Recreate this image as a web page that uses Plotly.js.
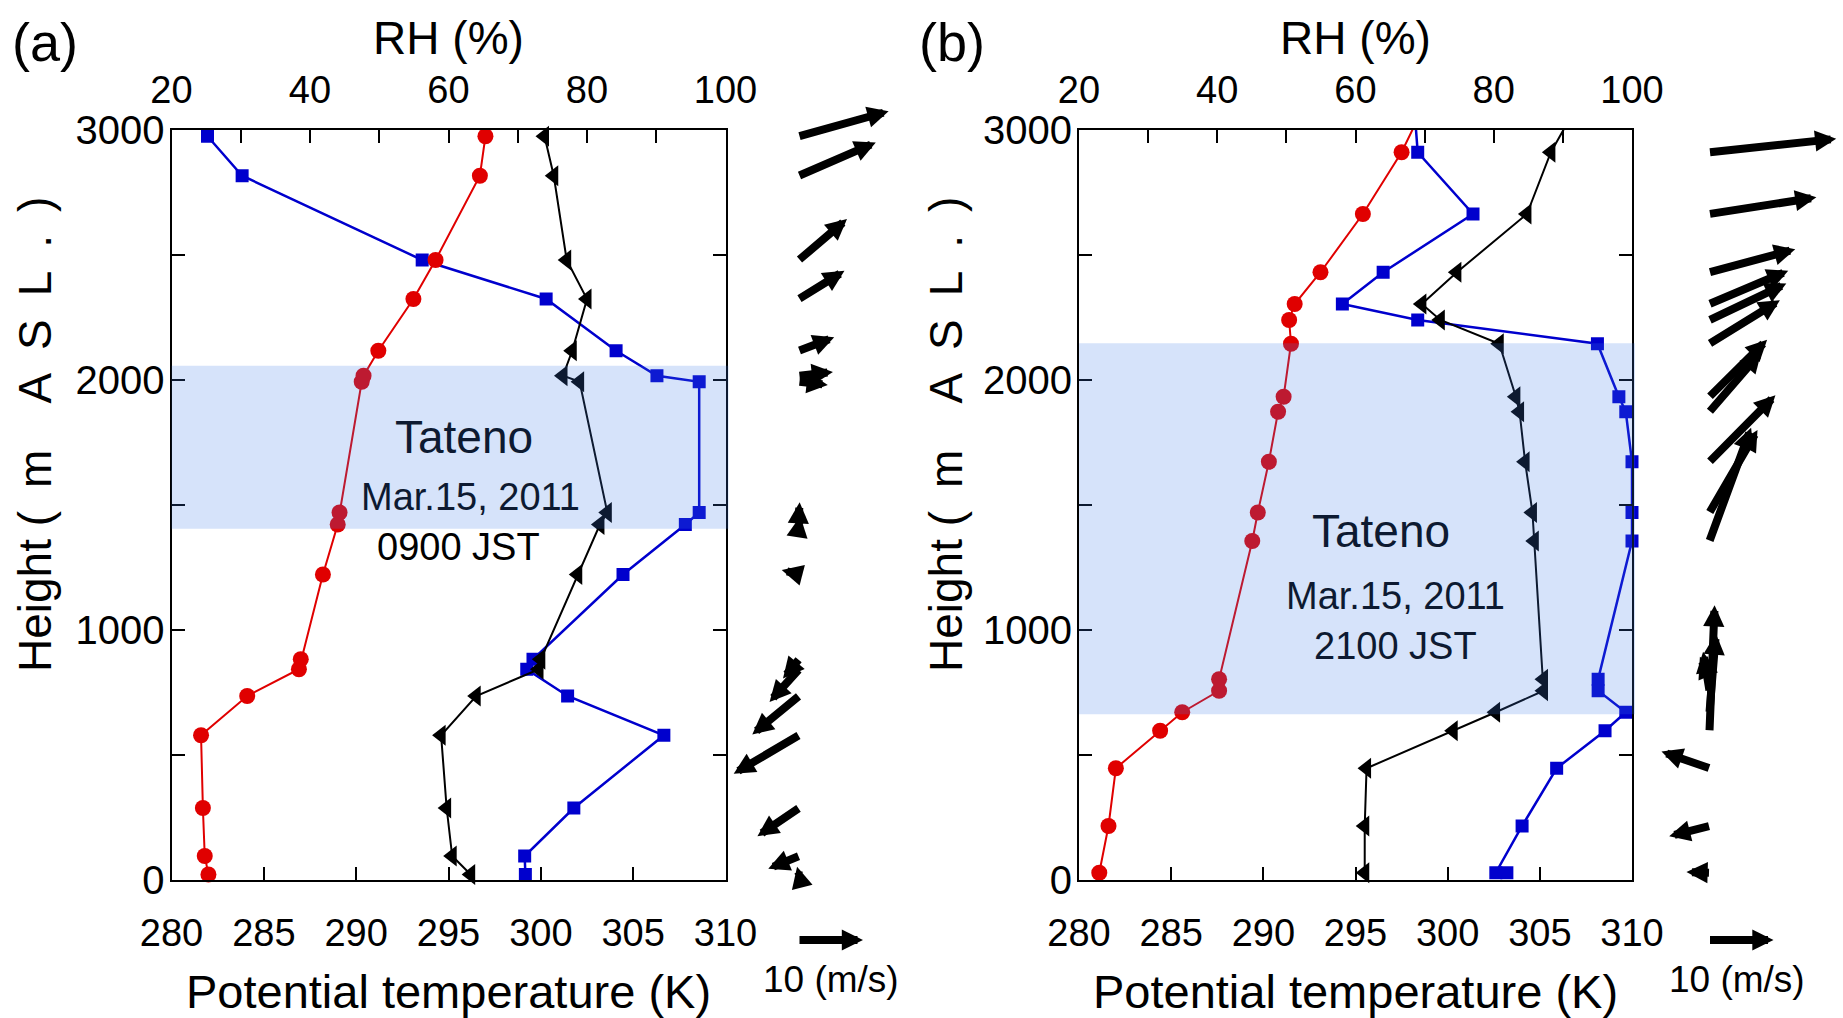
<!DOCTYPE html>
<html>
<head>
<meta charset="utf-8">
<script src="https://cdn.plot.ly/plotly-3.0.1.min.js"></script>
<style>
html, body { margin: 0; padding: 0; background: #ffffff; }
#chart { width: 1843px; height: 1018px; }
</style>
</head>
<body>
<div id="chart"></div>
<script>
// ---------------- DATA ----------------
// Panel (a): Tateno, Mar.15, 2011, 0900 JST
const heightA  = [2975, 2817, 2480, 2324, 2117, 2017, 1993, 1470, 1422, 1222, 883, 843, 736, 579, 288, 96, 22];
const thetaA   = [297.0, 296.7, 294.3, 293.1, 291.2, 290.4, 290.3, 289.1, 289.0, 288.2, 287.0, 286.9, 284.1, 281.6, 281.7, 281.8, 282.0];
const thetaEA  = [300.2, 300.7, 301.4, 302.5, 301.7, 301.2, 302.1, 303.6, 303.2, 302.0, 300.0, 299.9, 296.5, 294.6, 294.9, 295.2, 296.2];
const rhA      = [25.2, 30.2, 56.2, 74.1, 84.2, 90.1, 96.2, 96.2, 94.2, 85.2, 72.2, 71.3, 77.2, 91.1, 78.1, 71.0, 71.1];
const windUA   = [14.0, 12.0, 7.5, 7.1, 5.5, 5.3, 4.5, 0.1, 0.2, -2.7, -2.5, -4.6, -7.3, -10.2, -6.5, -4.8, -0.3];
const windVA   = [3.9, 5.2, 6.4, 4.4, 2.1, 0.6, -0.5, 1.6, 1.3, 0.7, -3.0, -5.1, -6.0, -6.0, -4.4, -2.0, 1.2];
const cloudA   = [1405, 2057];

// Panel (b): Tateno, Mar.15, 2011, 2100 JST
const heightB   = [3200, 2911, 2664, 2431, 2304, 2240, 2145, 1933, 1873, 1673, 1470, 1356, 803, 757, 671, 597, 447, 216, 29];
const thetaB    = [299.4, 297.5, 295.4, 293.1, 291.7, 291.4, 291.5, 291.1, 290.8, 290.3, 289.7, 289.4, 287.6, 287.6, 285.6, 284.4, 282.0, 281.6, 281.1];
const thetaEB   = [307.8, 305.6, 304.3, 300.5, 298.6, 299.6, 302.8, 303.7, 303.9, 304.2, 304.6, 304.7, 305.2, 305.2, 302.6, 300.3, 295.6, 295.5, 295.5];
const rhHeightB = [3200, 2911, 2664, 2431, 2304, 2240, 2145, 1933, 1873, 1673, 1470, 1356, 803, 757, 671, 597, 447, 216, 29, 29];
const rhB       = [68.2, 69.0, 77.0, 64.0, 58.1, 69.0, 95.0, 98.1, 99.1, 100.0, 100.0, 100.0, 95.1, 95.1, 99.1, 96.1, 89.1, 84.1, 80.3, 81.9];
const windHeightB = [2911, 2664, 2431, 2304, 2240, 2145, 1933, 1873, 1673, 1470, 1356, 803, 757, 671, 597, 447, 216, 29];
const windUB    = [19.8, 16.7, 13.4, 12.3, 12.0, 11.0, 9.0, 8.1, 10.3, 7.5, 6.5, -1.5, -1.0, 1.0, 0.8, -7.5, -6.3, -3.6];
const windVB    = [2.1, 2.6, 3.6, 5.2, 5.7, 6.8, 8.9, 9.4, 10.4, 12.9, 17.7, 3.5, 6.1, 12.3, 19.6, 2.6, -1.6, 0.1];
const cloudB    = [663, 2147];

// Reference wind vector (m/s)
const refWind = 10;

// Ticks
const thetaTicks    = [280, 285, 290, 295, 300, 305, 310];
const thetaTickText = ['280', '285', '290', '295', '300', '305', '310'];
const rhTicks       = [20, 30, 40, 50, 60, 70, 80, 90, 100];
const rhTickText    = ['20', '', '40', '', '60', '', '80', '', '100'];
const heightTicks   = [0, 500, 1000, 1500, 2000, 2500, 3000];
const heightTickText = ['0', '', '1000', '', '2000', '', '3000'];

// ---------------- LAYOUT / STYLE ----------------
const W = 1843, H = 1018;
const plotTop = 130, plotBottom = 880;
const aLeft = 171.5, aRight = 725.5;
const bLeft = 1079, bRight = 1632;
const hRange = [0, 3000];
const pxPerMs = 6.4;                                   // arrow scale (px per m/s)
const mPerMs = pxPerMs * (hRange[1] - hRange[0]) / (plotBottom - plotTop);

const fx = px => px / W;
const fy = py => 1 - py / H;

const RED = '#e00000', BLUE = '#0000cd', BLACK = '#000000';
const SHADE_TEXT = 'rgb(13,26,49)';
const FONT = 'Liberation Sans, Arial, Helvetica, sans-serif';

function windAxis(left, right, origin, anchor) {
  return {
    domain: [fx(left), fx(right)],
    range: [(left - origin) / pxPerMs, (right - origin) / pxPerMs],
    anchor: anchor, visible: false, fixedrange: true
  };
}

function rhAxis(left, right, anchor) {
  return {
    domain: [fx(left), fx(right)], range: [20, 100], side: 'top', anchor: anchor,
    tickmode: 'array', tickvals: rhTicks, ticktext: rhTickText,
    ticks: 'inside', ticklen: 13, tickwidth: 2, tickcolor: BLACK,
    showline: true, linewidth: 2, linecolor: BLACK, showgrid: false, zeroline: false,
    tickfont: {family: FONT, size: 38, color: BLACK}, ticklabelstandoff: 10,
    title: {text: 'RH (%)', font: {family: FONT, size: 46, color: BLACK}, standoff: 0}
  };
}

function thetaAxis(overlay, anchor) {
  return {
    overlaying: overlay, range: [280, 310], side: 'bottom', anchor: anchor,
    tickmode: 'array', tickvals: thetaTicks, ticktext: thetaTickText,
    ticks: 'inside', ticklen: 13, tickwidth: 2, tickcolor: BLACK,
    showline: true, linewidth: 2, linecolor: BLACK, showgrid: false, zeroline: false,
    tickfont: {family: FONT, size: 38, color: BLACK}, ticklabelstandoff: 18,
    title: {text: 'Potential temperature (K)', font: {family: FONT, size: 47, color: BLACK}, standoff: 45}
  };
}

function heightAxis(anchor) {
  return {
    domain: [fy(plotBottom), fy(plotTop)], range: hRange, anchor: anchor,
    tickmode: 'array', tickvals: heightTicks, ticktext: heightTickText,
    ticks: 'inside', ticklen: 13, tickwidth: 2, tickcolor: BLACK,
    showline: true, linewidth: 2, linecolor: BLACK, mirror: 'ticks',
    showgrid: false, zeroline: false,
    tickfont: {family: FONT, size: 40, color: BLACK}, ticklabelstandoff: -3
  };
}

function profileTraces(xRH, xTheta, ya, h, theta, thetaE, rhH, rh, windH, windRef) {
  return [
    {type: 'scatter', mode: 'lines+markers', x: rh, y: rhH, xaxis: xRH, yaxis: ya,
     line: {color: BLUE, width: 2.5}, marker: {symbol: 'square', size: 13, color: BLUE},
     cliponaxis: false, hoverinfo: 'skip'},
    {type: 'scatter', mode: 'lines+markers', x: thetaE, y: h, xaxis: xTheta, yaxis: ya,
     line: {color: BLACK, width: 2}, marker: {symbol: 'triangle-left', size: 18, color: BLACK},
     cliponaxis: false, hoverinfo: 'skip'},
    {type: 'scatter', mode: 'lines+markers', x: theta, y: h, xaxis: xTheta, yaxis: ya,
     line: {color: RED, width: 2}, marker: {symbol: 'circle', size: 16, color: RED},
     cliponaxis: false, hoverinfo: 'skip'},
    // anchors of the wind vectors (tails), invisible
    {type: 'scatter', mode: 'markers', x: windH.map(() => 0), y: windH, xaxis: windRef, yaxis: ya,
     marker: {size: 1, opacity: 0}, hoverinfo: 'skip'}
  ];
}

const data = [].concat(
  profileTraces('x', 'x2', 'y', heightA, thetaA, thetaEA, heightA, rhA, heightA, 'x5'),
  profileTraces('x3', 'x4', 'y2', heightB, thetaB, thetaEB, rhHeightB, rhB, windHeightB, 'x6')
);

const arrowStyle = {
  text: '', showarrow: true, arrowhead: 2, arrowsize: 0.53, arrowwidth: 8,
  arrowcolor: BLACK, standoff: 0, startstandoff: 0, font: {size: 1}, borderpad: 0
};

function windArrows(xref, yref, heights, u, v) {
  return heights.map((h, i) => Object.assign({}, arrowStyle, {
    xref: xref, yref: yref, axref: xref, ayref: yref,
    x: u[i], y: h + v[i] * mPerMs, ax: 0, ay: h
  }));
}

function refArrow(xref, yPx) {
  return Object.assign({}, arrowStyle, {
    xref: xref, axref: xref, yref: 'paper', ayref: 'pixel',
    x: refWind, ax: 0, y: fy(yPx), ay: 0
  });
}

function label(text, xPx, yPx, size, color, extra) {
  return Object.assign({
    text: text, xref: 'paper', yref: 'paper', x: fx(xPx), y: fy(yPx),
    xanchor: 'center', yanchor: 'middle', showarrow: false,
    font: {family: FONT, size: size, color: color || BLACK}
  }, extra || {});
}

const yTitle = 'Height (\u2002m\u2002\u2002A\u2002S\u2002L\u2002.\u2002)';

const annotations = [].concat(
  windArrows('x5', 'y', heightA, windUA, windVA),
  windArrows('x6', 'y2', windHeightB, windUB, windVB),
  [
    refArrow('x5', 940), refArrow('x6', 940),
    label('10 (m/s)', 831, 979, 37),
    label('10 (m/s)', 1737, 979, 37),
    label('(a)', 45, 42, 54),
    label('(b)', 952, 42, 54),
    label(yTitle, 35, 435, 46, BLACK, {textangle: -90}),
    label(yTitle, 946, 435, 46, BLACK, {textangle: -90}),
    label('Tateno', 464, 437, 46, SHADE_TEXT),
    label('Mar.15, 2011', 470, 497, 38, SHADE_TEXT),
    label('0900 JST', 458, 547, 38, BLACK),
    label('Tateno', 1381, 531, 46, SHADE_TEXT),
    label('Mar.15, 2011', 1395, 596, 38, SHADE_TEXT),
    label('2100 JST', 1395, 646, 38, SHADE_TEXT)
  ]
);

function cloudShape(left, right, yref, cloud) {
  return {
    type: 'rect', xref: 'paper', yref: yref,
    x0: fx(left), x1: fx(right + 3), y0: cloud[0], y1: cloud[1],
    fillcolor: 'rgb(60,124,231)', opacity: 0.21, line: {width: 0}, layer: 'above'
  };
}

const layout = {
  width: W, height: H,
  margin: {l: 0, r: 0, t: 0, b: 0, pad: 0},
  paper_bgcolor: '#ffffff', plot_bgcolor: 'rgba(0,0,0,0)',
  showlegend: false, hovermode: false,
  font: {family: FONT, color: BLACK},
  xaxis: rhAxis(aLeft, aRight, 'y'),
  xaxis2: thetaAxis('x', 'y'),
  yaxis: heightAxis('x'),
  xaxis3: rhAxis(bLeft, bRight, 'y2'),
  xaxis4: thetaAxis('x3', 'y2'),
  yaxis2: heightAxis('x3'),
  xaxis5: windAxis(729, 905, 799, 'y'),
  xaxis6: windAxis(1640, 1843, 1709.5, 'y2'),
  shapes: [cloudShape(aLeft, aRight, 'y', cloudA), cloudShape(bLeft, bRight, 'y2', cloudB)],
  annotations: annotations
};

Plotly.newPlot('chart', data, layout, {staticPlot: true, displayModeBar: false});
</script>
</body>
</html>
